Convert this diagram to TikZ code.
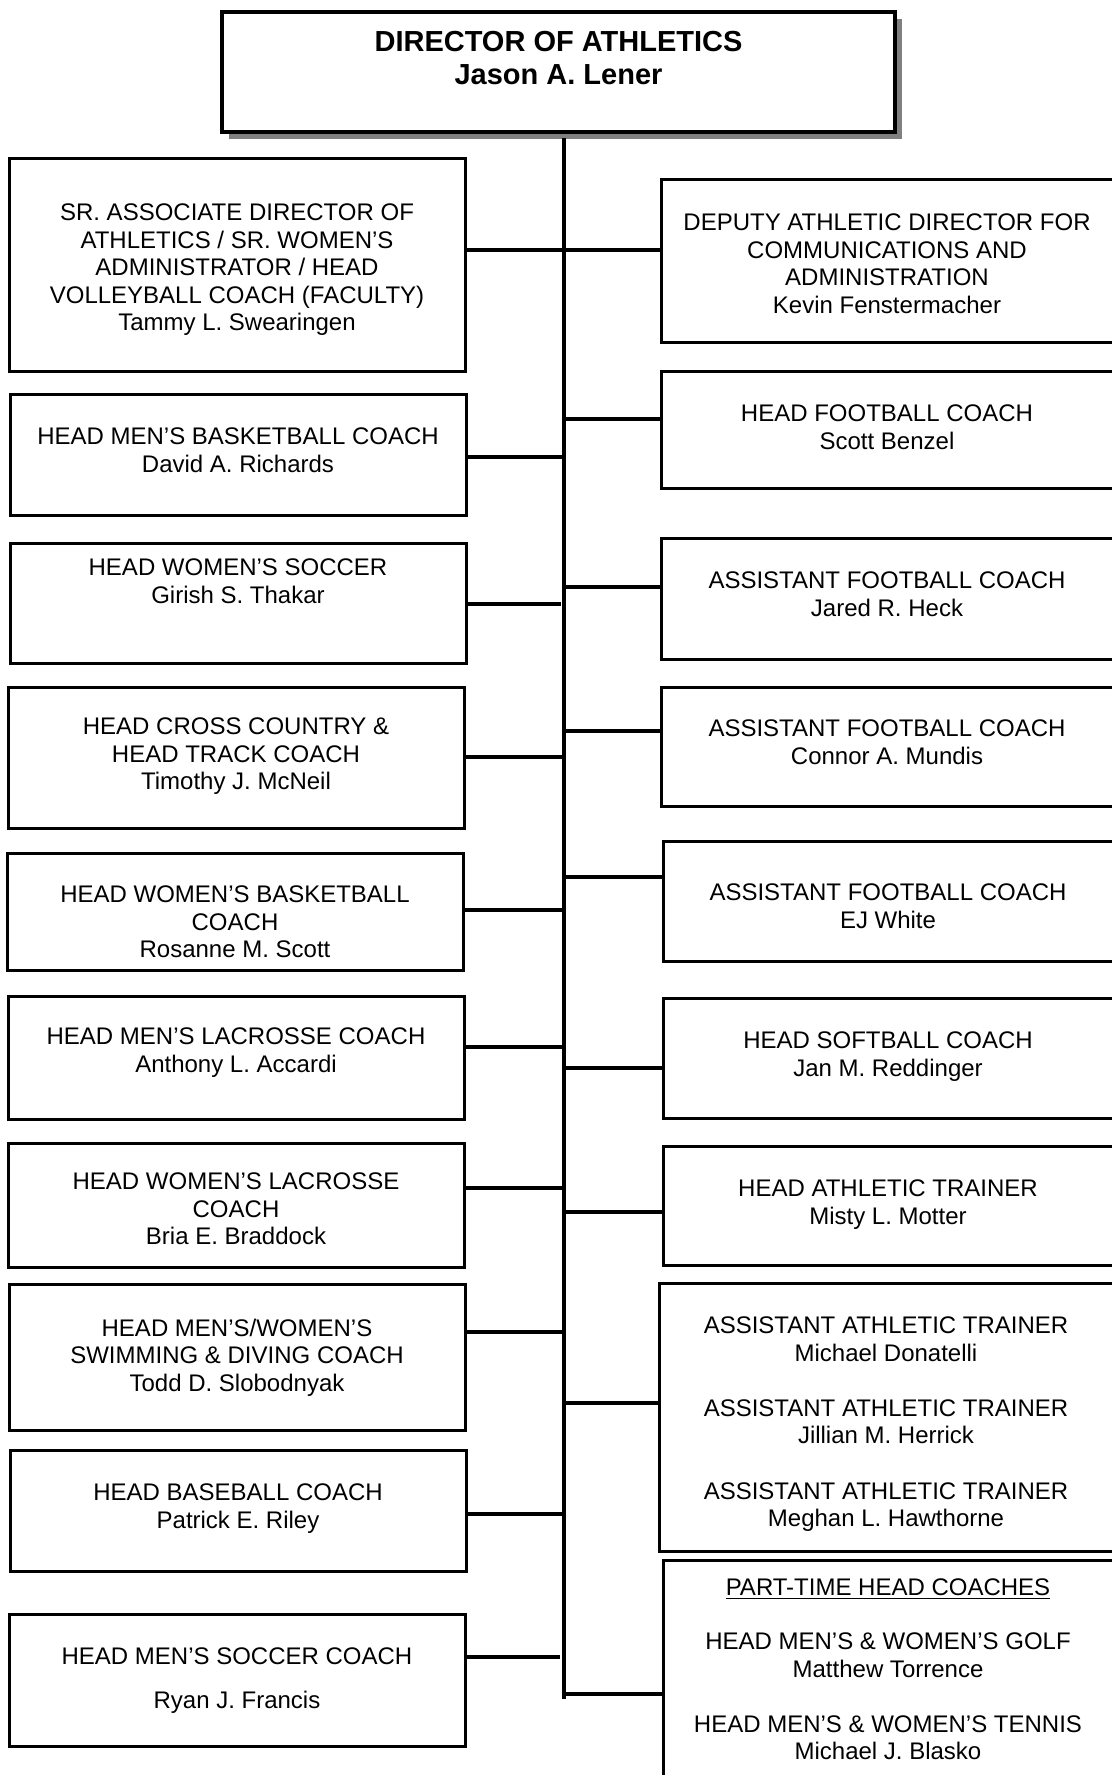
\documentclass[tikz,border=0pt]{standalone}
\usepackage{fontspec}
\setmainfont{Liberation Sans}
\usetikzlibrary{shadows}

\begin{document}
\begin{tikzpicture}[x=0.5pt, y=-0.5pt,
	box/.style={draw, fill=white, line width=1.5pt, inner sep=0pt},
	lbox/.style={box, minimum width=228pt},
	rbox/.style={box, minimum width=227pt},
	txt/.style={anchor=north, inner sep=0pt, align=center, font=\fontsize{12}{13.8}\selectfont},
	link/.style={line width=2.25pt}]
	\useasboundingbox (0,0) rectangle (1112,1775);
	\clip (0,0) rectangle (1112,1775);
	\node[box, line width=2pt, minimum width=336.5pt, minimum height=60pt, drop shadow={shadow xshift=3.5pt, shadow yshift=-3.5pt, fill=gray, opacity=1}] (dir) at (558.5,72) {};
	\node[txt, font=\fontsize{14.5}{16.4}\selectfont\bfseries] (dir-t) at (558.5,31) {DIRECTOR OF ATHLETICS\\Jason A. Lener};

	\node[lbox, minimum height=106.5pt] (sra) at (237,265.5) {};
	\node[txt] (sra-t) at (237,203.4) {SR. ASSOCIATE DIRECTOR OF\\ATHLETICS / SR. WOMEN’S\\ADMINISTRATOR / HEAD\\VOLLEYBALL COACH (FACULTY)\\Tammy L. Swearingen};
	\node[lbox, minimum height=60pt] (mbb) at (238,455) {};
	\node[txt] (mbb-t) at (238,427.4) {HEAD MEN’S BASKETBALL COACH\\David A. Richards};
	\node[lbox, minimum height=60pt] (wsoc) at (238,603) {};
	\node[txt] (wsoc-t) at (238,558.4) {HEAD WOMEN’S SOCCER\\Girish S. Thakar};
	\node[lbox, minimum height=70.5pt] (xc) at (236,757.5) {};
	\node[txt] (xc-t) at (236,717.4) {HEAD CROSS COUNTRY \&\\HEAD TRACK COACH\\Timothy J. McNeil};
	\node[lbox, minimum height=58.5pt] (wbb) at (235,911.5) {};
	\node[txt] (wbb-t) at (235,885.4) {HEAD WOMEN’S BASKETBALL\\COACH\\Rosanne M. Scott};
	\node[lbox, minimum height=61.5pt] (mlax) at (236,1057.5) {};
	\node[txt] (mlax-t) at (236,1027.4) {HEAD MEN’S LACROSSE COACH\\Anthony L. Accardi};
	\node[lbox, minimum height=62pt] (wlax) at (236,1205) {};
	\node[txt] (wlax-t) at (236,1172.4) {HEAD WOMEN’S LACROSSE\\COACH\\Bria E. Braddock};
	\node[lbox, minimum height=73pt] (swim) at (237,1357) {};
	\node[txt] (swim-t) at (237,1318.4) {HEAD MEN’S/WOMEN’S\\SWIMMING \& DIVING COACH\\Todd D. Slobodnyak};
	\node[lbox, minimum height=60.5pt] (base) at (238,1510.5) {};
	\node[txt] (base-t) at (238,1483.4) {HEAD BASEBALL COACH\\Patrick E. Riley};
	\node[lbox, minimum height=66pt] (msoc) at (237,1680) {};
	\node[txt] (msoc-t) at (237,1647.4) {HEAD MEN’S SOCCER COACH\\[8.2pt]Ryan J. Francis};

	\node[rbox, minimum height=81.5pt] (dep) at (888,261.5) {};
	\node[txt] (dep-t) at (887,213.4) {DEPUTY ATHLETIC DIRECTOR FOR\\COMMUNICATIONS AND\\ADMINISTRATION\\Kevin Fenstermacher};
	\node[rbox, minimum height=58pt] (hfb) at (888,430) {};
	\node[txt] (hfb-t) at (887,404.4) {HEAD FOOTBALL COACH\\Scott Benzel};
	\node[rbox, minimum height=60.5pt] (heck) at (888,598.5) {};
	\node[txt] (heck-t) at (887,571.4) {ASSISTANT FOOTBALL COACH\\Jared R. Heck};
	\node[rbox, minimum height=59.5pt] (mund) at (888,746.5) {};
	\node[txt] (mund-t) at (887,719.4) {ASSISTANT FOOTBALL COACH\\Connor A. Mundis};
	\node[rbox, minimum height=60pt] (white) at (890,901) {};
	\node[txt] (white-t) at (888,883.4) {ASSISTANT FOOTBALL COACH\\EJ White};
	\node[rbox, minimum height=60pt] (soft) at (890,1058) {};
	\node[txt] (soft-t) at (888,1031.4) {HEAD SOFTBALL COACH\\Jan M. Reddinger};
	\node[rbox, minimum height=59.5pt] (trn) at (890,1205.5) {};
	\node[txt] (trn-t) at (888,1179.4) {HEAD ATHLETIC TRAINER\\Misty L. Motter};
	\node[rbox, minimum height=134pt] (atrn) at (886,1417) {};
	\node[txt] (atrn-t) at (886,1316.4) {ASSISTANT ATHLETIC TRAINER\\Michael Donatelli\\[13.8pt]ASSISTANT ATHLETIC TRAINER\\Jillian M. Herrick\\[13.8pt]ASSISTANT ATHLETIC TRAINER\\Meghan L. Hawthorne};
	\node[rbox, minimum height=120pt] (pt) at (890,1680) {};
	\node[txt] (pt-t) at (888,1578.4) {\underline{PART-TIME HEAD COACHES}\\[13.2pt]HEAD MEN’S \& WOMEN’S GOLF\\Matthew Torrence\\[13.8pt]HEAD MEN’S \& WOMEN’S TENNIS\\Michael J. Blasko};

	\coordinate (top) at (564,138);
	\coordinate (bot) at (564,1699);
	\coordinate (jsra) at (564,250);
	\coordinate (jmbb) at (564,457);
	\coordinate (jwsoc) at (561,604);
	\coordinate (jxc) at (564,757);
	\coordinate (jwbb) at (564,910);
	\coordinate (jmlax) at (564,1047);
	\coordinate (jwlax) at (562,1188);
	\coordinate (jswim) at (564,1332);
	\coordinate (jbase) at (564,1514);
	\coordinate (jmsoc) at (560,1657);
	\coordinate (jhfb) at (564,419);
	\coordinate (jheck) at (564,587);
	\coordinate (jmund) at (564,731);
	\coordinate (jwhite) at (564,877);
	\coordinate (jsoft) at (564,1068);
	\coordinate (jtrn) at (564,1212);
	\coordinate (jatrn) at (564,1403);
	\coordinate (jpt) at (564,1694);

	\draw[link] (top) -- (bot);
	\draw[link] (sra.east |- jsra) -- (dep.west |- jsra);
	\draw[link] (mbb.east |- jmbb) -- (jmbb);
	\draw[link] (wsoc.east |- jwsoc) -- (jwsoc);
	\draw[link] (xc.east |- jxc) -- (jxc);
	\draw[link] (wbb.east |- jwbb) -- (jwbb);
	\draw[link] (mlax.east |- jmlax) -- (jmlax);
	\draw[link] (wlax.east |- jwlax) -- (jwlax);
	\draw[link] (swim.east |- jswim) -- (jswim);
	\draw[link] (base.east |- jbase) -- (jbase);
	\draw[link] (msoc.east |- jmsoc) -- (jmsoc);
	\draw[link] (jhfb) -- (hfb.west |- jhfb);
	\draw[link] (jheck) -- (heck.west |- jheck);
	\draw[link] (jmund) -- (mund.west |- jmund);
	\draw[link] (jwhite) -- (white.west |- jwhite);
	\draw[link] (jsoft) -- (soft.west |- jsoft);
	\draw[link] (jtrn) -- (trn.west |- jtrn);
	\draw[link] (jatrn) -- (atrn.west |- jatrn);
	\draw[link] (jpt) -- (pt.west |- jpt);
\end{tikzpicture}
\end{document}
